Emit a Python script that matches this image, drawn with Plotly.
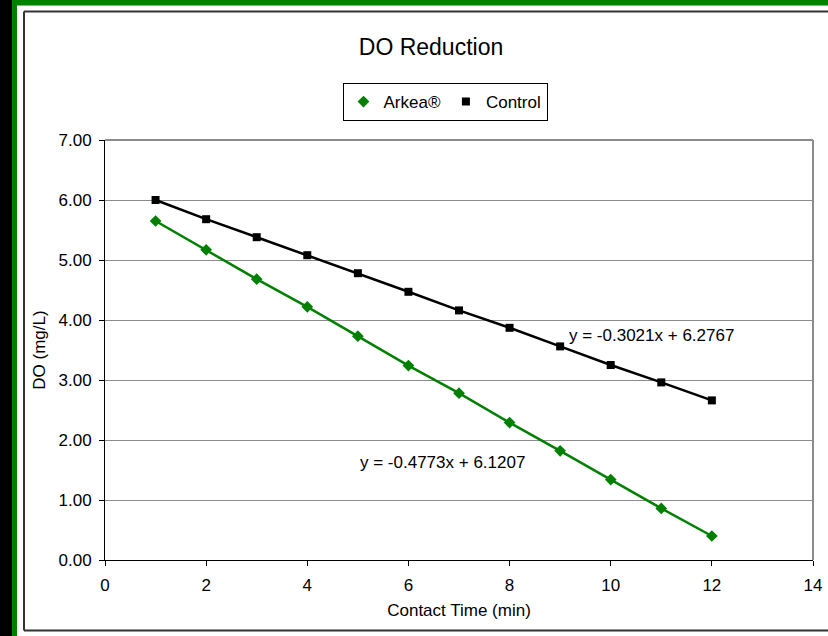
import plotly.graph_objects as go

contact_time = [1, 2, 3, 4, 5, 6, 7, 8, 9, 10, 11, 12]
arkea = [5.65, 5.17, 4.68, 4.22, 3.73, 3.24, 2.78, 2.29, 1.82, 1.34, 0.86, 0.40]
control = [6.00, 5.68, 5.38, 5.08, 4.78, 4.47, 4.16, 3.87, 3.56, 3.25, 2.96, 2.66]
y_ticks = [0, 1, 2, 3, 4, 5, 6, 7]
y_tick_labels = ["0.00", "1.00", "2.00", "3.00", "4.00", "5.00", "6.00", "7.00"]
x_ticks = [0, 2, 4, 6, 8, 10, 12, 14]
eq_control = "y = -0.3021x + 6.2767"
eq_arkea = "y = -0.4773x + 6.1207"

W, H = 828, 636
L, R, T, B = 105, 15, 140, 76
PW, PH = W - L - R, H - T - B

def px(x):
    return (x - L) / PW

def py(y):
    return (H - B - y) / PH

FONT = "Liberation Sans, Arial, sans-serif"
FS = 17

fig = go.Figure()
fig.add_trace(go.Scatter(
    x=contact_time, y=arkea, mode="lines", showlegend=False, hoverinfo="skip",
    line=dict(color="#008000", width=2.5),
))
fig.add_trace(go.Scatter(
    x=contact_time, y=control, mode="lines", showlegend=False, hoverinfo="skip",
    line=dict(color="#000000", width=2.5),
))
fig.add_trace(go.Scatter(
    x=contact_time, y=arkea, name="Arkea®", mode="markers",
    marker=dict(symbol="diamond", size=9, color="#008000"),
))
fig.add_trace(go.Scatter(
    x=contact_time, y=control, name="Control", mode="markers",
    marker=dict(symbol="square", size=8, color="#000000"),
))

BORDER = dict(color="#333333", width=2)
shapes = [
    dict(type="rect", xref="paper", yref="paper", x0=px(0), x1=px(12), y0=py(H), y1=py(0),
         fillcolor="#000000", line_width=0, layer="above"),
    dict(type="rect", xref="paper", yref="paper", x0=px(12), x1=px(17), y0=py(H), y1=py(0),
         fillcolor="#008000", line_width=0, layer="above"),
    dict(type="rect", xref="paper", yref="paper", x0=px(12), x1=px(W), y0=py(5), y1=py(0),
         fillcolor="#008000", line_width=0, layer="above"),
    dict(type="rect", xref="paper", yref="paper", x0=px(17), x1=px(W), y0=py(6), y1=py(5),
         fillcolor="#5fd35f", line_width=0, layer="above"),
    dict(type="line", xref="paper", yref="paper", x0=px(24), x1=px(W), y0=py(11.5), y1=py(11.5),
         line=BORDER, layer="above"),
    dict(type="line", xref="paper", yref="paper", x0=px(24), x1=px(24), y0=py(11.5), y1=py(630.5),
         line=BORDER, layer="above"),
    dict(type="line", xref="paper", yref="paper", x0=px(24), x1=px(W), y0=py(630.5), y1=py(630.5),
         line=BORDER, layer="above"),
    dict(type="line", xref="paper", yref="paper", x0=0, x1=1, y0=1, y1=1,
         line=dict(color="#8c8c8c", width=2), layer="below"),
    dict(type="line", xref="paper", yref="paper", x0=1, x1=1, y0=0, y1=1,
         line=dict(color="#8c8c8c", width=2), layer="below"),
]

fig.update_layout(
    width=W, height=H,
    margin=dict(l=L, r=R, t=T, b=B, autoexpand=False),
    paper_bgcolor="#ffffff", plot_bgcolor="#ffffff",
    font=dict(family=FONT, size=FS, color="#000000"),
    title=dict(text="DO Reduction", x=431 / W, xanchor="center",
               y=1 - 47 / H, yanchor="middle", yref="container",
               font=dict(family=FONT, size=23, color="#000000")),
    showlegend=True,
    legend=dict(orientation="h", x=px(445), xanchor="center", y=py(83), yanchor="top",
                bordercolor="#000000", borderwidth=1, bgcolor="#ffffff",
                font=dict(family=FONT, size=FS), itemwidth=30, tracegroupgap=0),
    shapes=shapes,
    annotations=[
        dict(x=9.14, y=3.75, xref="x", yref="y", text=eq_control, showarrow=False,
             xanchor="left", yanchor="middle", font=dict(family=FONT, size=FS)),
        dict(x=5.0, y=1.62, xref="x", yref="y", text=eq_arkea, showarrow=False,
             xanchor="left", yanchor="middle", font=dict(family=FONT, size=FS)),
    ],
)

fig.update_xaxes(
    range=[0, 14], tickvals=x_ticks, ticktext=[str(v) for v in x_ticks],
    showgrid=False, zeroline=False, showline=True, linecolor="#000000", linewidth=1,
    ticks="outside", ticklen=5, tickcolor="#000000", tickwidth=1,
    ticklabelstandoff=5,
    tickfont=dict(family=FONT, size=FS),
    title=dict(text="Contact Time (min)", standoff=9, font=dict(family=FONT, size=FS)),
    automargin=False,
)
fig.update_yaxes(
    range=[0, 7], tickvals=y_ticks, ticktext=y_tick_labels,
    showgrid=True, gridcolor="#8c8c8c", gridwidth=1,
    zeroline=False, showline=True, linecolor="#000000", linewidth=1,
    ticks="outside", ticklen=5, tickcolor="#000000", tickwidth=1,
    ticklabelstandoff=4,
    tickfont=dict(family=FONT, size=FS),
    title=dict(text="DO (mg/L)", standoff=8, font=dict(family=FONT, size=FS)),
    automargin=False,
)

fig.write_html("out.html", config={"displayModeBar": False},
               post_script="document.body.style.margin='0';")
